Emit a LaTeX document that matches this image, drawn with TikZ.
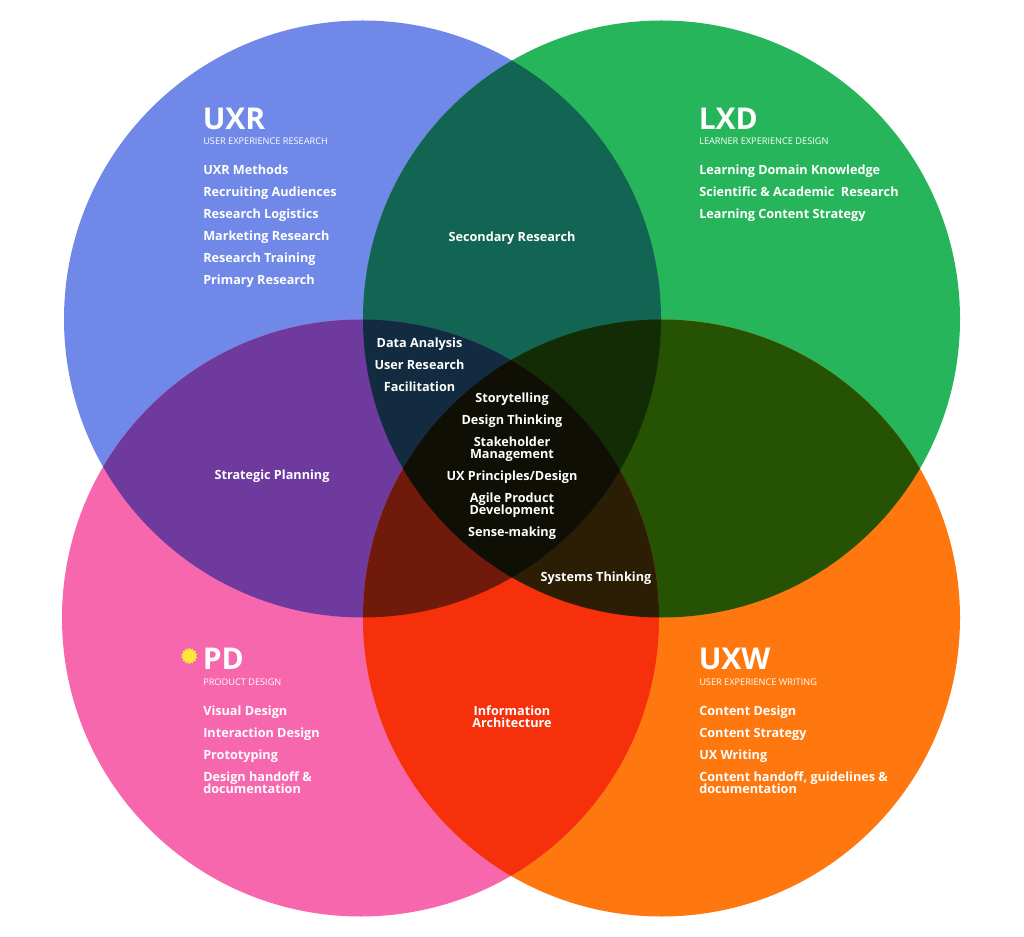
\documentclass[tikz,border=0pt]{standalone}
\usepackage{fontspec}
\setmainfont{Open Sans}
\usetikzlibrary{positioning,shapes.geometric}

\definecolor{uxrblue}{HTML}{7089E8}
\definecolor{lxdgreen}{HTML}{27B55B}
\definecolor{pdpink}{HTML}{F767AE}
\definecolor{uxworange}{HTML}{FF780F}
\definecolor{sunyellow}{HTML}{FFE83A}
\definecolor{uxrlxd}{HTML}{136553}
\definecolor{uxrpd}{HTML}{6F3A9E}
\definecolor{lxduxw}{HTML}{265203}
\definecolor{pduxw}{HTML}{F5300A}
\definecolor{nwtriple}{HTML}{122B40}
\definecolor{netriple}{HTML}{122C05}
\definecolor{swtriple}{HTML}{6F1A0A}
\definecolor{setriple}{HTML}{2B1E05}
\definecolor{allfour}{HTML}{0F0F05}

\newcommand{\circUXR}{(362.5,319) circle[radius=298.5]}
\newcommand{\circLXD}{(661.5,319) circle[radius=298.5]}
\newcommand{\circPD}{(360.5,618) circle[radius=298.5]}
\newcommand{\circUXW}{(661.5,618) circle[radius=298.5]}
% tight leading, also where descenders meet ascenders
\newcommand{\itemfont}{\fontsize{9.5}{9}\selectfont\bfseries\setlength{\lineskiplimit}{-5pt}}

\begin{document}
\begin{tikzpicture}[
  x=0.75pt, y=-0.75pt,
  title/.style={text=white, inner sep=0pt, anchor=west,
    font=\fontsize{22.5}{24}\selectfont\bfseries},
  subtitle/.style={text=white, inner sep=0pt, anchor=west,
    font=\fontsize{6.9}{7}\selectfont},
  item/.style={text=white, inner sep=0pt, anchor=north west, align=left,
    text height=7.5pt, text depth=2.5pt, font=\itemfont},
  mid/.style={item, anchor=north, align=center},
  twoline/.style={text height=16.5pt},
  node distance=6.1pt
]
\useasboundingbox (0,0) rectangle (1024,937);

% ── Circles ──
\fill[uxrblue] \circUXR;
\fill[lxdgreen] \circLXD;
\fill[pdpink] \circPD;
\fill[uxworange] \circUXW;

% ── Overlaps of two ──
\begin{scope}
  \clip \circUXR;
  \fill[uxrlxd] \circLXD;
  \fill[uxrpd] \circPD;
\end{scope}
\begin{scope}
  \clip \circUXW;
  \fill[lxduxw] \circLXD;
  \fill[pduxw] \circPD;
\end{scope}

% ── Overlaps of three ──
\begin{scope}
  \clip \circUXR;
  \clip \circLXD;
  \fill[nwtriple] \circPD;
  \fill[netriple] \circUXW;
\end{scope}
\begin{scope}
  \clip \circPD;
  \clip \circUXW;
  \fill[swtriple] \circUXR;
  \fill[setriple] \circLXD;
\end{scope}

% ── Centre ──
\begin{scope}
  \clip \circUXR;
  \clip \circLXD;
  \clip \circPD;
  \fill[allfour] \circUXW;
\end{scope}

% ── UXR ──
\node[title] (uxr) at (202.5,119) {UXR};
\node[subtitle] (uxrsub) at (203,141) {USER EXPERIENCE RESEARCH};
\node[item] (uxr1) at (203,164) {UXR Methods};
\node[item, below=of uxr1.south west, anchor=north west] (uxr2) {Recruiting Audiences};
\node[item, below=of uxr2.south west, anchor=north west] (uxr3) {Research Logistics};
\node[item, below=of uxr3.south west, anchor=north west] (uxr4) {Marketing Research};
\node[item, below=of uxr4.south west, anchor=north west] (uxr5) {Research Training};
\node[item, below=of uxr5.south west, anchor=north west] (uxr6) {Primary Research};

% ── LXD ──
\node[title] (lxd) at (698.5,119) {LXD};
\node[subtitle] (lxdsub) at (699,141) {LEARNER EXPERIENCE DESIGN};
\node[item] (lxd1) at (699,164) {Learning Domain Knowledge};
\node[item, below=of lxd1.south west, anchor=north west] (lxd2) {Scientific \& Academic~ Research};
\node[item, below=of lxd2.south west, anchor=north west] (lxd3) {Learning Content Strategy};

% ── PD ──
\node[star, star points=14, star point ratio=1.3, fill=sunyellow,
  inner sep=0pt, minimum size=12.5pt] (sun) at (189.3,656) {};
\node[title] (pd) at (202.5,659) {PD};
\node[subtitle] (pdsub) at (203,682) {PRODUCT DESIGN};
\node[item] (pd1) at (203,705) {Visual Design};
\node[item, below=of pd1.south west, anchor=north west] (pd2) {Interaction Design};
\node[item, below=of pd2.south west, anchor=north west] (pd3) {Prototyping};
\node[item, twoline, below=of pd3.south west, anchor=north west] (pd4) {Design handoff \&\\documentation};

% ── UXW ──
\node[title] (uxw) at (698.5,659) {UXW};
\node[subtitle] (uxwsub) at (699,682) {USER EXPERIENCE WRITING};
\node[item] (uxw1) at (699,705) {Content Design};
\node[item, below=of uxw1.south west, anchor=north west] (uxw2) {Content Strategy};
\node[item, below=of uxw2.south west, anchor=north west] (uxw3) {UX Writing};
\node[item, twoline, below=of uxw3.south west, anchor=north west] (uxw4) {Content handoff, guidelines \&\\documentation};

% ── Overlap labels ──
\node[mid] (secondary) at (512,231.5) {Secondary Research};
\node[mid] (strategic) at (272,469.5) {Strategic Planning};
\node[mid] (systems) at (596,571.5) {Systems Thinking};
\node[mid, twoline] (infoarch) at (512,705) {Information\\Architecture};

\node[mid] (data) at (419.5,337.7) {Data Analysis};
\node[mid, below=of data] (userres) {User Research};
\node[mid, below=of userres] (facil) {Facilitation};

% ── Centre list ──
\node[mid] (story) at (512,392.5) {Storytelling};
\node[mid, below=of story] (thinking) {Design Thinking};
\node[mid, twoline, below=of thinking] (stake) {Stakeholder\\Management};
\node[mid, below=of stake] (principles) {UX Principles/Design};
\node[mid, twoline, below=of principles] (agile) {Agile Product\\Development};
\node[mid, below=of agile] (sense) {Sense-making};

\end{tikzpicture}
\end{document}
